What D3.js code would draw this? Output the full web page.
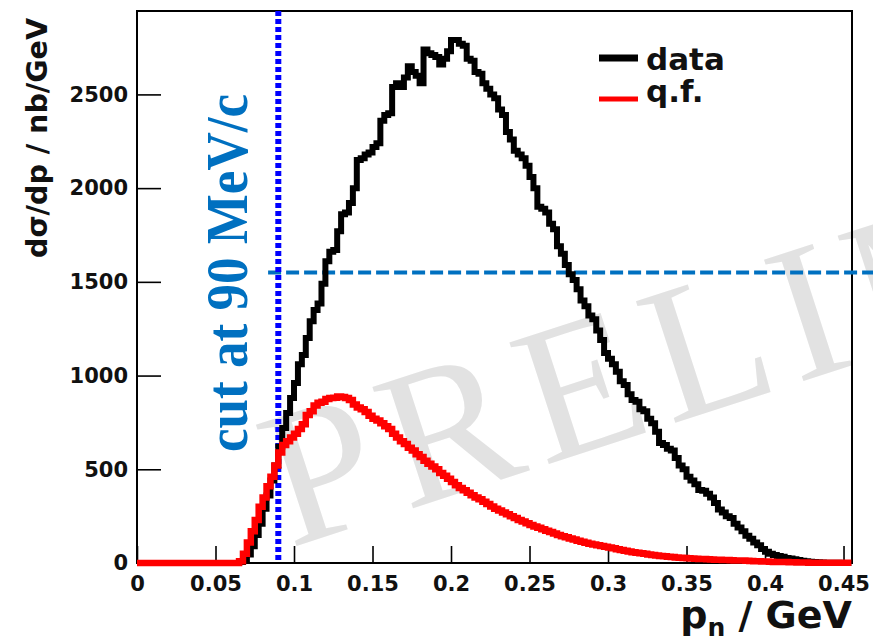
<!DOCTYPE html>
<html>
<head>
<meta charset="utf-8">
<script src="https://cdn.jsdelivr.net/npm/d3@7/dist/d3.min.js"></script>
<style>
  html, body { margin: 0; padding: 0; background: #fff; }
  svg { display: block; }
</style>
</head>
<body>
<svg id="chart" width="873" height="639"></svg>
<script>
// --- Data (bins of 0.0025 GeV starting at 0) ---
const binWidth = 0.0025;
const dataCounts = [
  0, 0, 0, 0, 0, 0, 0, 0, 0, 0, 0, 0, 0, 0, 0, 0, 0, 0, 0, 0, 0, 0, 0, 0, 0, 0,
  5, 15, 45, 90, 150, 210, 290, 360, 440, 520, 620, 720, 800, 880,
  960, 1060, 1110, 1200, 1290, 1350, 1385, 1490, 1610, 1660, 1670, 1770, 1860, 1870, 1920, 2000, 2150, 2160, 2180, 2190,
  2220, 2240, 2360, 2390, 2400, 2540, 2560, 2540, 2590, 2650, 2620, 2600, 2560, 2740, 2720, 2710, 2700, 2660, 2690, 2730,
  2790, 2790, 2770, 2760, 2690, 2680, 2620, 2610, 2560, 2530, 2500, 2480, 2420, 2390, 2300, 2260, 2200, 2180, 2160, 2120,
  2060, 2000, 1900, 1890, 1870, 1810, 1780, 1690, 1650, 1590, 1540, 1510, 1460, 1400, 1370, 1320, 1300, 1240, 1190, 1120,
  1090, 1060, 1020, 970, 950, 900, 870, 860, 820, 810, 770, 745, 700, 640, 630, 610, 600, 560, 520, 500,
  460, 440, 420, 390, 385, 370, 350, 320, 285, 270, 250, 240, 210, 190, 170, 145, 130, 110, 95, 75,
  60, 50, 43, 38, 33, 27, 24, 20, 16, 12, 10, 7, 5, 4, 3, 2, 2, 1, 1, 0,
  0, 0
];
const qfCounts = [
  0, 0, 0, 0, 0, 0, 0, 0, 0, 0, 0, 0, 0, 0, 0, 0, 0, 0, 0, 0, 0, 0, 0, 0, 0, 0,
  10, 50, 110, 170, 230, 300, 350, 410, 460, 520, 590, 630, 650, 670,
  690, 715, 740, 790, 810, 840, 855, 860, 875, 880, 882, 888, 885, 880, 870, 845, 830, 820, 805, 785,
  770, 760, 745, 730, 715, 690, 670, 650, 635, 615, 600, 580, 565, 545, 530, 515, 500, 480, 465, 450,
  432, 415, 400, 388, 375, 362, 350, 340, 327, 315, 302, 290, 280, 270, 260, 250, 240, 230, 222, 212,
  203, 195, 188, 180, 172, 165, 157, 150, 143, 137, 131, 125, 119, 114, 108, 103, 99, 95, 91, 87,
  83, 79, 74, 70, 66, 62, 58, 55, 52, 49, 46, 43, 40, 38, 36, 34, 32, 30, 28, 27,
  25, 24, 23, 22, 21, 20, 19, 18, 17, 16, 16, 15, 14, 13, 13, 12, 11, 10, 9, 8,
  8, 7, 6, 6, 5, 5, 4, 4, 3, 3, 3, 2, 2, 2, 2, 1, 1, 1, 1, 1,
  1, 1
];

const xMajor = [0, 0.05, 0.1, 0.15, 0.2, 0.25, 0.3, 0.35, 0.4, 0.45];
const xLabels = ["0", "0.05", "0.1", "0.15", "0.2", "0.25", "0.3", "0.35", "0.4", "0.45"];
const yMajor = [0, 500, 1000, 1500, 2000, 2500];
const yLabels = ["0", "500", "1000", "1500", "2000", "2500"];

const cutValue = 0.09;      // vertical dotted cut
const levelValue = 1550;    // horizontal dashed level
const levelFrom = 0.0835;

const legendNames = ["data", "q.f."];
const legendColors = ["#000000", "#ff0000"];

// --- Setup ---
const svg = d3.select("#chart");
const W = +svg.attr("width");

const frame = { left: 137, right: 852, top: 11, bottom: 563 };

const x = d3.scaleLinear().domain([0, 0.4554]).range([frame.left, frame.right]);
const y = d3.scaleLinear().domain([0, 2945]).range([frame.bottom, frame.top]);

svg.append("rect").attr("width", W).attr("height", 639).attr("fill", "#fff");

// watermark
svg.append("text")
  .attr("transform", "translate(290,548) rotate(-18)")
  .attr("font-family", "'Liberation Serif', serif")
  .attr("font-size", 195)
  .attr("letter-spacing", 14)
  .attr("fill", "#e2e2e2")
  .text("PRELIMINARY");

// --- Axes ---
const tickFont = "'DejaVu Sans', sans-serif";

const xMinor = d3.range(0, 46).map((i) => i / 100).filter((v, i) => i % 5 !== 0);
const yMinor = d3.range(0, 30).map((i) => i * 100).filter((v) => v % 500 !== 0);

const gx = svg.append("g").attr("transform", `translate(0,${frame.bottom})`);
gx.call(d3.axisBottom(x).tickValues(xMinor).tickSize(-9).tickFormat(""));
gx.call(d3.axisBottom(x).tickValues(xMajor).tickSize(-17).tickPadding(8)
  .tickFormat((d, i) => xLabels[i]));

const gy = svg.append("g").attr("transform", `translate(${frame.left},0)`);
gy.call(d3.axisLeft(y).tickValues(yMinor).tickSize(-12).tickFormat(""));
gy.call(d3.axisLeft(y).tickValues(yMajor).tickSize(-24).tickPadding(9)
  .tickFormat((d, i) => yLabels[i]));

svg.selectAll(".domain").remove();
svg.selectAll(".tick line").attr("stroke", "#000").attr("stroke-width", 1.6);
svg.selectAll(".tick text")
  .attr("font-family", tickFont)
  .attr("font-weight", "bold")
  .attr("font-size", 21)
  .attr("fill", "#111");
gx.selectAll(".tick text").attr("dy", "0.95em");

// frame
svg.append("rect")
  .attr("x", frame.left).attr("y", frame.top)
  .attr("width", frame.right - frame.left)
  .attr("height", frame.bottom - frame.top)
  .attr("fill", "none").attr("stroke", "#000").attr("stroke-width", 2);

// --- Cut lines ---
svg.append("line")
  .attr("x1", x(levelFrom)).attr("x2", W)
  .attr("y1", y(levelValue)).attr("y2", y(levelValue))
  .attr("stroke", "#0070c0").attr("stroke-width", 4)
  .attr("stroke-dasharray", "13,5");

svg.append("line")
  .attr("x1", x(cutValue)).attr("x2", x(cutValue))
  .attr("y1", frame.top).attr("y2", frame.bottom)
  .attr("stroke", "#0000ff").attr("stroke-width", 6)
  .attr("stroke-dasharray", "5,3");

// --- Histograms ---
function stepPoints(counts) {
  const pts = counts.map((v, i) => [i * binWidth, v]);
  pts.push([counts.length * binWidth, counts[counts.length - 1]]);
  return pts;
}
const stepLine = d3.line()
  .x((d) => x(d[0]))
  .y((d) => y(d[1]))
  .curve(d3.curveStepAfter);

svg.append("path")
  .datum(stepPoints(dataCounts))
  .attr("fill", "none")
  .attr("stroke", "#000")
  .attr("stroke-width", 6)
  .attr("stroke-linejoin", "miter")
  .attr("d", stepLine);

svg.append("path")
  .datum(stepPoints(qfCounts))
  .attr("fill", "none")
  .attr("stroke", "#ff0000")
  .attr("stroke-width", 6.5)
  .attr("stroke-linejoin", "miter")
  .attr("d", stepLine);

// --- Cut annotation ---
svg.append("text")
  .attr("transform", "translate(247,452) rotate(-90)")
  .attr("font-family", "'Liberation Serif', serif")
  .attr("font-weight", "bold")
  .attr("font-size", 60)
  .attr("fill", "#0070c0")
  .attr("textLength", 358)
  .attr("lengthAdjust", "spacingAndGlyphs")
  .text("cut at 90 MeV/c");

// --- Axis titles ---
svg.append("text")
  .attr("transform", "translate(47,258) rotate(-90)")
  .attr("font-family", tickFont)
  .attr("font-weight", "bold")
  .attr("font-size", 29)
  .attr("fill", "#111")
  .attr("textLength", 240)
  .attr("lengthAdjust", "spacingAndGlyphs")
  .text("dσ/dp / nb/GeV");

const xt = svg.append("text")
  .attr("x", frame.right).attr("y", 628)
  .attr("text-anchor", "end")
  .attr("font-family", tickFont)
  .attr("font-weight", "bold")
  .attr("font-size", 38)
  .attr("fill", "#111");
xt.append("tspan").text("p");
xt.append("tspan").attr("font-size", 25).attr("dy", 8).text("n");
xt.append("tspan").attr("dy", -8).text(" / GeV");

// --- Legend ---
const leg = svg.append("g");
legendNames.forEach((name, i) => {
  const ly = [58, 99][i];
  leg.append("line")
    .attr("x1", 599).attr("x2", 638)
    .attr("y1", ly).attr("y2", ly)
    .attr("stroke", legendColors[i])
    .attr("stroke-width", i === 0 ? 7 : 5);
  leg.append("text")
    .attr("x", 646).attr("y", [70, 102][i])
    .attr("font-family", tickFont)
    .attr("font-weight", "bold")
    .attr("font-size", 31)
    .attr("fill", "#111")
    .text(name);
});
</script>
</body>
</html>
